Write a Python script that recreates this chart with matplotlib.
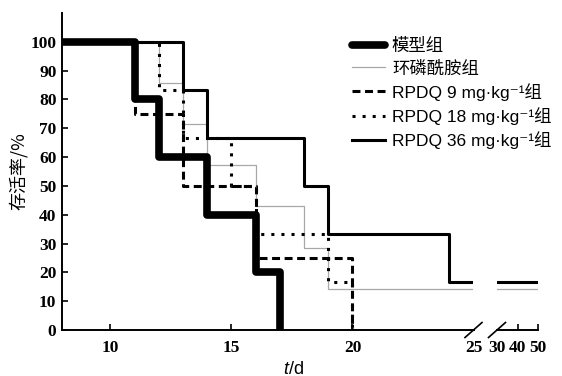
import numpy as np
import matplotlib
matplotlib.use("Agg")
import matplotlib.pyplot as plt

plt.rcParams['font.family'] = 'Liberation Serif'
plt.rcParams['font.weight'] = 'bold'
plt.rcParams['mathtext.fontset'] = 'custom'
plt.rcParams['mathtext.it'] = 'Liberation Sans:style=italic:weight=normal'
plt.rcParams['mathtext.rm'] = 'Liberation Sans:weight=normal'

# survival curves: day of each step and survival (%) after it
model_days = [0, 11, 12, 14, 16, 17]
model_surv = [100, 80, 60, 40, 20, 0]

ctx_days = [0, 12, 13, 14, 16, 18, 19, 50]
ctx_surv = [100, 85.7, 71.4, 57.1, 42.9, 28.6, 14.3, 14.3]

low_days = [0, 11, 13, 16, 20]
low_surv = [100, 75, 50, 25, 0]

mid_days = [0, 12, 13, 15, 16, 19, 20]
mid_surv = [100, 83.3, 66.7, 50, 33.3, 16.7, 0]

high_days = [0, 13, 14, 18, 19, 24, 50]
high_surv = [100, 83.3, 66.7, 50, 33.3, 16.7, 16.7]

labels = ['模型组', '环磷酰胺组', 'RPDQ 9 mg·kg⁻¹组',
          'RPDQ 18 mg·kg⁻¹组', 'RPDQ 36 mg·kg⁻¹组']
left_ticks = [10, 15, 20, 25]
right_ticks = [30, 40, 50]
y_ticks = list(range(0, 101, 10))

fig = plt.figure(figsize=(5.62, 3.76), dpi=100)
W, H = 562, 376
ax1 = fig.add_axes([62 / W, 46 / H, 411.5 / W, 317 / H])
ax2 = fig.add_axes([497 / W, 46 / H, 41 / W, 317 / H])

styles = [
    dict(color='black', lw=5.5, zorder=6, solid_capstyle='butt'),
    dict(color='#a8a8a8', lw=0.9, zorder=2),
    dict(color='black', lw=2.2, zorder=4, linestyle=(0, (2.6, 1.5))),
    dict(color='black', lw=2.2, zorder=5, linestyle=(0, (1, 2.3))),
    dict(color='black', lw=2.2, zorder=3),
]
series = [(model_days, model_surv), (ctx_days, ctx_surv), (low_days, low_surv),
          (mid_days, mid_surv), (high_days, high_surv)]

handles = []
for ax in (ax1, ax2):
    for (d, s), st, lab in zip(series, styles, labels):
        h, = ax.step(d, s, where='post', label=lab, **st)
        if ax is ax1:
            handles.append(h)
    ax.set_ylim(0, 110)
    for sp in ('top', 'right'):
        ax.spines[sp].set_visible(False)
    ax.spines['bottom'].set_linewidth(1.4)
    ax.spines['left'].set_linewidth(1.4)
    ax.tick_params(direction='in', length=4, width=1.2, labelsize=12.5)
    ax.tick_params(axis='x', pad=7)

ax1.set_xlim(8, 25)
ax1.set_xticks(left_ticks)
ax1.set_yticks(y_ticks)
ax1.tick_params(axis='y', pad=4)
ax2.set_xlim(30, 50)
ax2.set_xticks(right_ticks)
ax2.set_yticks([])
ax2.spines['left'].set_visible(False)

# hide the ticks sitting on the axis break
ax1.xaxis.get_major_ticks()[-1].tick1line.set_visible(False)
ax2.xaxis.get_major_ticks()[0].tick1line.set_visible(False)

# break marks
for ax, w in ((ax1, 411.5), (ax2, 41)):
    x0 = 0 if ax is ax2 else 1
    dx, dy = 8.5 / w, 7.5 / 317
    ax.plot([x0 - dx, x0 + dx], [-dy, dy], color='black', lw=1.2,
            transform=ax.transAxes, clip_on=False)

ax1.set_ylabel('存活率/%', family=['Noto Sans CJK SC', 'DejaVu Sans'],
               fontsize=13, fontweight='normal')
ax1.yaxis.set_label_coords(-0.083, 0.5)
fig.text(293 / W, 1 - 369 / H, r'$\mathit{t}$/d', family='Liberation Sans',
         fontsize=13, fontweight='normal', ha='center', va='center')

leg = fig.legend(handles=handles, loc='upper left',
                 bbox_to_anchor=(352 / W, 1 - 38 / H),
                 bbox_transform=fig.transFigure, frameon=False,
                 borderpad=0, borderaxespad=0, handlelength=1.9,
                 handletextpad=0.4, labelspacing=0.36,
                 prop=dict(family=['Liberation Sans', 'DejaVu Sans', 'Noto Sans CJK SC'],
                           size=12.5, weight='normal'))
leg.legend_handles[0].set_solid_capstyle('round')

fig.savefig('out.png', dpi=100)
